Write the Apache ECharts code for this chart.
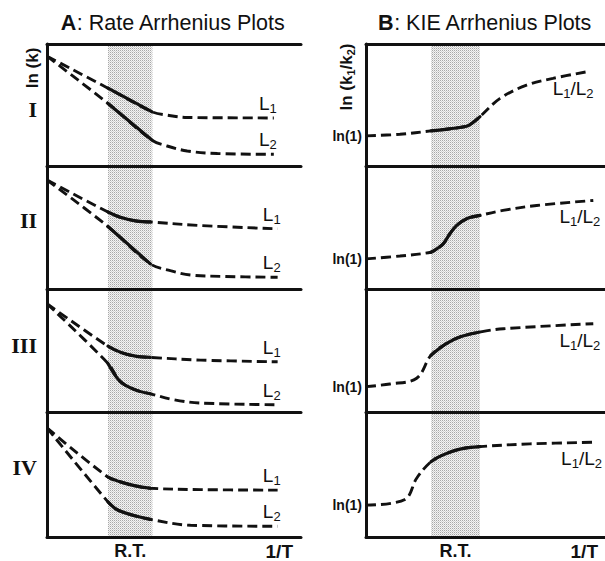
<!DOCTYPE html>
<html><head><meta charset="utf-8">
<script src="https://cdn.jsdelivr.net/npm/echarts@6/dist/echarts.min.js"></script>
<style>html,body{margin:0;padding:0;background:#fff}#c{width:605px;height:561px}</style>
</head><body><div id="c"></div>
<script>
// ---------- data (arbitrary units: x = 1/T scale 0-100, y = ln scale 0-100 per panel) ----------
const rowNames = ['I', 'II', 'III', 'IV'];
const titleA = 'Rate Arrhenius Plots';
const titleB = 'KIE Arrhenius Plots';
const xName = '1/T';
const shadeName = 'R.T.';
const shadeA = [24, 41.5];
const shadeB = [27.2, 47.7];
const lnOne = [24.7, 24.5, 20.6, 25.5];

const rateL1 = [
  [[0,90],[24,63.8],[41.4,44.4],[47.3,41.7],[55.2,39.8],[89.3,39.4]],
  [[0,88.6],[24,62.6],[28.9,58.3],[34.8,55.4],[40.7,54.5],[60.5,51.6],[90.8,48.9]],
  [[0,88],[24,53.5],[28.9,48.6],[34.8,45.4],[40.7,44.4],[60.5,42.2],[90.8,40.8]],
  [[0,87.3],[24,47.9],[28.9,44.1],[34.8,40.9],[40.7,39],[60.5,37.9],[90.8,37.5]]
];
const rateL2 = [
  [[0,90],[24,51.3],[41.4,21.1],[47.3,16.4],[55.2,12.3],[67.1,10.2],[89.3,9.6]],
  [[0,88.6],[24,50.8],[40.7,20.4],[48.6,14.9],[56.5,11.4],[70,10.2],[90.8,9.5]],
  [[0,88],[24,39.5],[28.9,24.7],[34.8,18],[40.7,14.8],[50,10],[60.5,7.3],[90.8,5.9]],
  [[0,87.3],[24,28.1],[27.5,22],[32.8,18],[40.7,14.1],[56.5,9.4],[90.8,8.6]]
];
const kie = [
  [[0,24.7],[14.2,26],[27.2,28.8],[35,30.5],[42.1,32.6],[44.8,35.7],[47.7,40.5],[56.1,55.4],[67.2,66.3],[78.2,71.8],[92.3,77.2]],
  [[0,24.5],[14.2,26.8],[27.2,29.9],[29.6,32.6],[32.3,36.7],[35.1,44.9],[37.9,51.6],[42.1,57.1],[47.7,59.8],[57.3,63.9],[71.4,67.9],[95.1,72]],
  [[0,20.6],[10,22.8],[21.2,27.4],[27.2,46.2],[33.6,55.6],[39.3,61],[47.7,65],[57.5,67.7],[95.1,71.8]],
  [[0,25.5],[16.3,30],[21.2,47],[27.2,60.3],[32.3,65.7],[39.3,70.3],[47.7,72.3],[68.6,74.5],[95.8,75.8]]
];

// ---------- styling / layout ----------
const ink = '#111';
const sans = '"Liberation Sans", Arial, Helvetica, sans-serif';
const serif = '"Liberation Serif", "Times New Roman", serif';
const tops = [44, 166, 289, 412];
const heights = [122, 123, 123, 125];
const cols = [{left: 47, width: 254}, {left: 366, width: 239}];
const shades = [shadeA, shadeB];

// stipple pattern for the room-temperature band
const pc = document.createElement('canvas');
pc.width = 2; pc.height = 2;
const g = pc.getContext('2d');
g.fillStyle = '#f4f4f4'; g.fillRect(0, 0, 2, 2);
g.fillStyle = '#a8a8a8'; g.fillRect(0, 0, 1, 1);
g.fillStyle = '#d2d2d2'; g.fillRect(1, 1, 1, 1);
const stipple = {image: pc, repeat: 'repeat'};

const axisLineStyle = {show: true, onZero: false, lineStyle: {color: ink, width: 3}};

const grid = [], xAxis = [], yAxis = [], series = [];
for (let c = 0; c < 2; c++) {
  for (let r = 0; r < 4; r++) {
    const i = c * 4 + r;
    grid.push({left: cols[c].left, width: cols[c].width, top: tops[r], height: heights[r], containLabel: false});
    xAxis.push({gridIndex: i, type: 'value', min: 0, max: 100, z: 10,
      axisLine: axisLineStyle, axisTick: {show: false}, axisLabel: {show: false}, splitLine: {show: false}});
    yAxis.push({gridIndex: i, type: 'value', min: 0, max: 100, z: 10,
      axisLine: axisLineStyle, axisTick: {show: false}, splitLine: {show: false},
      axisLabel: c === 1 ? {show: true, customValues: [lnOne[r]], formatter: () => 'ln(1)',
        fontFamily: sans, fontWeight: 'bold', fontSize: 14, color: ink, margin: 4} : {show: false}});
  }
}
// top border lines
xAxis.push({gridIndex: 0, position: 'top', type: 'value', min: 0, max: 100, z: 10,
  axisLine: axisLineStyle, axisTick: {show: false}, axisLabel: {show: false}, splitLine: {show: false}});
xAxis.push({gridIndex: 4, position: 'top', type: 'value', min: 0, max: 100, z: 10,
  axisLine: axisLineStyle, axisTick: {show: false}, axisLabel: {show: false}, splitLine: {show: false}});

const subRich = {
  m: {fontFamily: sans, fontSize: 19, color: ink, padding: [0, 0, 2, 0], verticalAlign: 'bottom'},
  s: {fontFamily: sans, fontSize: 13, color: ink, verticalAlign: 'bottom'}
};

function addCurve(i, pts, shade, labelCfg, withShade) {
  const dashed = {
    type: 'line', xAxisIndex: i, yAxisIndex: i, data: pts, symbol: 'none', smooth: 0.35,
    lineStyle: {color: ink, width: 2.9, type: [10, 5], cap: 'butt'},
    endLabel: labelCfg, silent: true, z: 3
  };
  if (withShade) {
    dashed.markArea = {silent: true, itemStyle: {color: stipple}, data: [[{xAxis: shade[0]}, {xAxis: shade[1]}]]};
  }
  series.push(dashed);
  series.push({
    type: 'line', xAxisIndex: i, yAxisIndex: i, symbol: 'none', smooth: 0.35, silent: true, z: 4,
    data: pts.filter(p => p[0] >= shade[0] - 0.01 && p[0] <= shade[1] + 0.01),
    lineStyle: {color: ink, width: 3.2, cap: 'round'}
  });
}

for (let r = 0; r < 4; r++) {
  const lab = n => ({show: true, formatter: '{m|L}{s|' + n + '}', rich: subRich,
    align: 'right', verticalAlign: 'bottom', distance: 3, padding: [0, 0, 3, 0]});
  addCurve(r, rateL1[r], shadeA, lab(1), true);
  addCurve(r, rateL2[r], shadeA, lab(2), false);
  addCurve(4 + r, kie[r], shadeB, {show: true, formatter: '{m|L}{s|1}{m|/L}{s|2}', rich: {
      m: {fontFamily: sans, fontSize: 19, color: ink, padding: [0, 0, 2, 0], verticalAlign: 'bottom'},
      s: {fontFamily: sans, fontSize: 13, color: ink, verticalAlign: 'bottom'}},
    align: 'right', verticalAlign: 'top', distance: 7, padding: [7, 0, 0, 0]}, true);
}

// ---------- text annotations ----------
const graphic = [];
const txt = (x, y, style, extra) => Object.assign({type: 'text', x, y, silent: true, z: 100,
  style: Object.assign({fill: ink, align: 'center', verticalAlign: 'middle'}, style)}, extra || {});
graphic.push(txt(173, 23, {text: '{b|A}: ' + titleA, fontFamily: sans, fontSize: 21.5,
  rich: {b: {fontFamily: sans, fontSize: 21.5, fontWeight: 'bold', fill: ink}}}));
graphic.push(txt(485, 23, {text: '{b|B}: ' + titleB, fontFamily: sans, fontSize: 21.5,
  rich: {b: {fontFamily: sans, fontSize: 21.5, fontWeight: 'bold', fill: ink}}}));
graphic.push(txt(32, 68, {text: 'ln (k)', fontFamily: sans, fontSize: 17, fontWeight: 'bold'}, {rotation: Math.PI / 2}));
graphic.push(txt(347, 77, {text: '{m|ln (k}{s|1}{m|/k}{s|2}{m|)}', rich: {
  m: {fontFamily: sans, fontSize: 17, fontWeight: 'bold', fill: ink, verticalAlign: 'bottom', padding: [0, 0, 2, 0]},
  s: {fontFamily: sans, fontSize: 11, fontWeight: 'bold', fill: ink, verticalAlign: 'bottom'}}}, {rotation: Math.PI / 2}));
const numY = [109, 220, 345, 467];
rowNames.forEach((n, r) => graphic.push(txt(37, numY[r], {text: n, fontFamily: serif, fontSize: 22, fontWeight: 'bold', align: 'right'})));
for (let c = 0; c < 2; c++) {
  const sc = shades[c];
  const cx = cols[c].left + cols[c].width * (sc[0] + sc[1]) / 200;
  graphic.push(txt(cx, 551, {text: shadeName, fontFamily: sans, fontSize: 18, fontWeight: 'bold'}));
  graphic.push(txt(c === 0 ? 293 : 598, 551, {text: xName, fontFamily: sans, fontSize: 19, fontWeight: 'bold', align: 'right'}));
}

const chart = echarts.init(document.getElementById('c'), null, {renderer: 'svg'});
chart.setOption({animation: false, backgroundColor: '#fff', grid, xAxis, yAxis, series, graphic});
</script>
</body></html>
